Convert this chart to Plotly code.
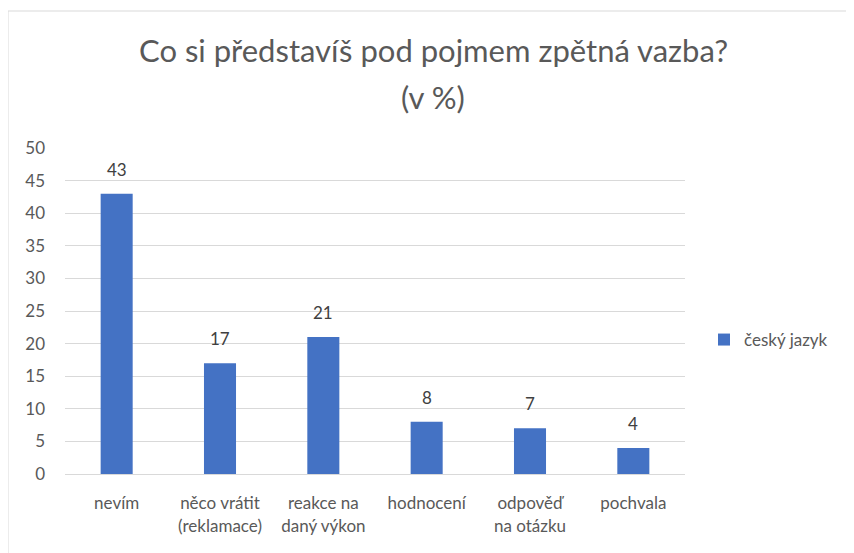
import plotly.graph_objects as go

categories = ["nevím", "něco vrátit<br>(reklamace)", "reakce na<br>daný výkon", "hodnocení", "odpověď<br>na otázku", "pochvala"]
values = [43, 17, 21, 8, 7, 4]
series_name = "český jazyk"
y_ticks = [0, 5, 10, 15, 20, 25, 30, 35, 40, 45, 50]

FONT = "Lato, Open Sans, sans-serif"
GREY = "#595959"

# page body has an 8px margin; work in reference-screen coordinates minus 8
OFF = 8
W, H = 854 - OFF, 553 - OFF
L, Rx, T, Bx = 65 - OFF, 685 - OFF, 148 - OFF, 474 - OFF
pw, ph = Rx - L, Bx - T


def px(x):
    return (x - OFF - L) / pw


def py(y):
    return (Bx - (y - OFF)) / ph


fig = go.Figure()
fig.add_trace(go.Bar(
    x=categories, y=values, name=series_name,
    marker=dict(color="#4472C4", line=dict(width=0)),
))

annotations = [
    dict(x=c, y=v, xref="x", yref="y", text=str(v), showarrow=False,
         xanchor="center", yanchor="bottom", yshift=12,
         font=dict(size=17, color="#404040", family=FONT))
    for c, v in zip(categories, values)
]
annotations += [
    dict(text="Co si představíš pod pojmem zpětná vazba?", x=px(433), y=py(50),
         xref="paper", yref="paper", showarrow=False, xanchor="center", yanchor="middle",
         font=dict(size=31, color=GREY, family=FONT)),
    dict(text="(v %)", x=px(433), y=py(97),
         xref="paper", yref="paper", showarrow=False, xanchor="center", yanchor="middle",
         font=dict(size=31, color=GREY, family=FONT)),
]

fig.update_layout(
    width=W, height=H,
    margin=dict(l=L, r=W - Rx, t=T, b=H - Bx),
    paper_bgcolor="white", plot_bgcolor="white",
    font=dict(family=FONT, color=GREY, size=17),
    bargap=0.69,
    showlegend=True,
    legend=dict(x=px(704), y=py(340), xanchor="left", yanchor="middle",
                font=dict(size=17, color=GREY, family=FONT), itemwidth=30),
    xaxis=dict(showgrid=False, showline=True, linecolor="#d9d9d9", linewidth=1,
               ticks="", tickfont=dict(size=17, color=GREY, family=FONT),
               ticklabelstandoff=14),
    yaxis=dict(range=[0, 50], tickvals=y_ticks, showgrid=True, gridcolor="#d9d9d9",
               gridwidth=1, zeroline=False, showline=False, ticks="",
               tickfont=dict(size=17, color=GREY, family=FONT), ticklabelstandoff=19),
    annotations=annotations,
    shapes=[
        dict(type="line", xref="paper", yref="paper", x0=px(8), x1=px(870), y0=py(11), y1=py(11),
             line=dict(color="#d9d9d9", width=1)),
        dict(type="line", xref="paper", yref="paper", x0=px(8), x1=px(8), y0=py(11), y1=py(570),
             line=dict(color="#d9d9d9", width=1)),
    ],
)

fig.write_html("out.html")
